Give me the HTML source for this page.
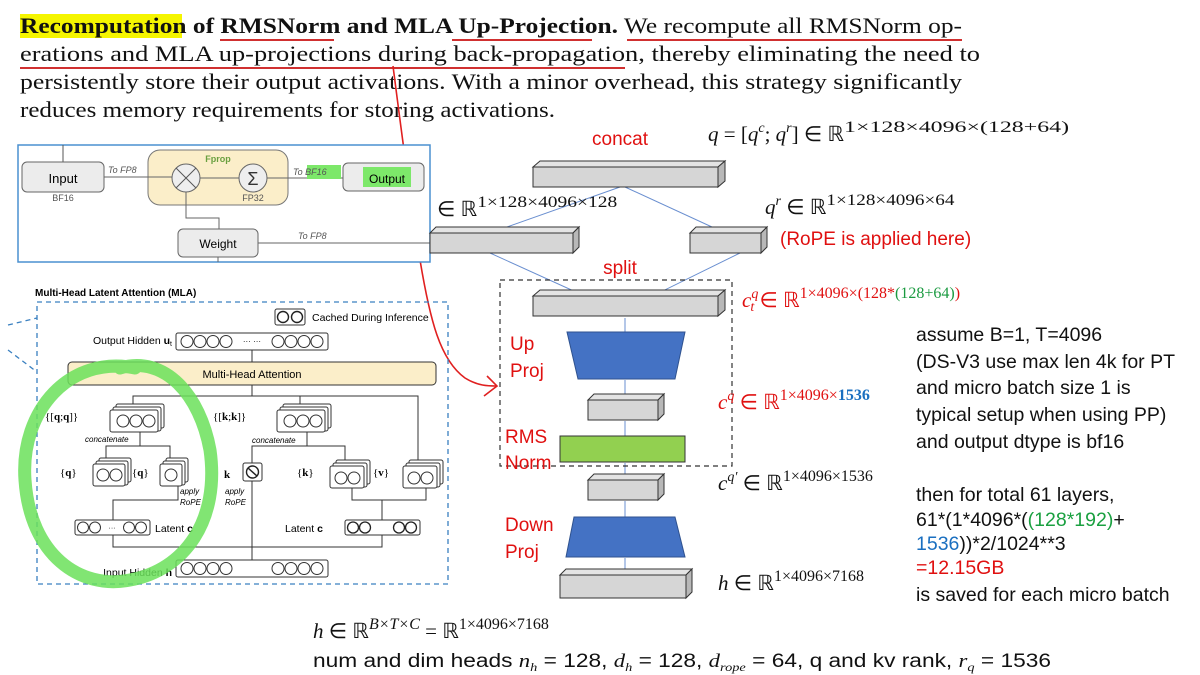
<!DOCTYPE html>
<html><head><meta charset="utf-8"><style>
html,body{margin:0;padding:0;background:#fff;}
svg{display:block}
.s{font-family:"Liberation Serif",serif}
.a{font-family:"Liberation Sans",sans-serif}
.m{font-family:"Liberation Serif",serif;font-style:italic}
</style></head><body>
<svg width="1200" height="675" viewBox="0 0 1200 675" xmlns="http://www.w3.org/2000/svg">
<rect width="1200" height="675" fill="#fff"/>
<rect x="20" y="14" width="162" height="24" fill="#f5f500"/>
<g class="s" font-size="22" fill="#111">
<text x="20" y="33" textLength="942" lengthAdjust="spacingAndGlyphs"><tspan font-weight="bold">Recomputation of RMSNorm and MLA Up-Projection.</tspan>   We recompute all RMSNorm op-</text>
<text x="20" y="61" textLength="960" lengthAdjust="spacingAndGlyphs">erations and MLA up-projections during back-propagation, thereby eliminating the need to</text>
<text x="20" y="89" textLength="942" lengthAdjust="spacingAndGlyphs">persistently store their output activations. With a minor overhead, this strategy significantly</text>
<text x="20" y="117" textLength="535" lengthAdjust="spacingAndGlyphs">reduces memory requirements for storing activations.</text>
</g>
<g stroke="#d03030" stroke-width="2" fill="none">
<path d="M220 40 H334"/><path d="M452 40 H592"/><path d="M627 40 H962"/><path d="M20 68 H625"/>
</g>
<path d="M393 66 C400 120 410 200 420 260 C430 320 440 360 465 378 C478 386 488 386 497 386" stroke="#e02020" stroke-width="1.6" fill="none"/>
<path d="M487 376 L497 386 L484 396" stroke="#e02020" stroke-width="1.6" fill="none"/>

<rect x="18" y="145" width="412" height="117" fill="#fff" stroke="#4a90d0" stroke-width="1.5"/>
<g class="a">
<line x1="63" y1="145" x2="63" y2="162" stroke="#555"/>
<rect x="22" y="162" width="82" height="30" rx="5" fill="#ececec" stroke="#666"/>
<text x="63" y="183" font-size="13" text-anchor="middle">Input</text>
<text x="63" y="201" font-size="9" fill="#555" text-anchor="middle">BF16</text>
<rect x="148" y="150" width="140" height="55" rx="12" fill="#fbeec9" stroke="#777"/>
<text x="218" y="162" font-size="9" fill="#6aa040" font-weight="bold" text-anchor="middle">Fprop</text>
<line x1="104" y1="177" x2="172" y2="177" stroke="#666"/>
<text x="108" y="173" font-size="9" fill="#555" font-style="italic">To FP8</text>
<circle cx="186" cy="178" r="14" fill="#eee" stroke="#666"/>
<path d="M176 168 L196 188 M196 168 L176 188" stroke="#555"/>
<line x1="200" y1="178" x2="239" y2="178" stroke="#666"/>
<circle cx="253" cy="178" r="14" fill="#eee" stroke="#666"/>
<text x="253" y="185" font-size="18" text-anchor="middle" fill="#333">Σ</text>
<text x="253" y="201" font-size="9" fill="#555" text-anchor="middle">FP32</text>
<line x1="267" y1="178" x2="343" y2="178" stroke="#666"/>
<rect x="307" y="165" width="34" height="14" fill="#7de86a"/>
<text x="293" y="175" font-size="9" fill="#555" font-style="italic">To BF16</text>
<rect x="343" y="163" width="81" height="28" rx="5" fill="#ececec" stroke="#666"/>
<rect x="363" y="167" width="48" height="20" fill="#7de86a"/>
<text x="387" y="183" font-size="12" text-anchor="middle">Output</text>
<path d="M186 192 V218 H219 V229" stroke="#666" fill="none"/>
<rect x="178" y="229" width="80" height="28" rx="5" fill="#ececec" stroke="#666"/>
<text x="218" y="248" font-size="12" text-anchor="middle">Weight</text>
<line x1="218" y1="257" x2="218" y2="262" stroke="#666"/>
<line x1="258" y1="243" x2="430" y2="243" stroke="#666"/>
<text x="298" y="239" font-size="9" fill="#555" font-style="italic">To FP8</text>
</g>

<g class="a">
<text x="35" y="296" font-size="10" font-weight="bold">Multi-Head Latent Attention (MLA)</text>
<rect x="37" y="302" width="411" height="282" fill="none" stroke="#3a80c0" stroke-width="1.3" stroke-dasharray="5,4"/>
<path d="M8 325 L37 318 M8 350 L37 372" stroke="#3a80c0" stroke-width="1.3" stroke-dasharray="5,4"/>
<rect x="275" y="309" width="30" height="16" rx="2" fill="#fff" stroke="#333"/>
<circle cx="283" cy="317" r="5.5" fill="#fff" stroke="#222" stroke-width="1.4"/><circle cx="297" cy="317" r="5.5" fill="#fff" stroke="#222" stroke-width="1.4"/>
<text x="312" y="321" font-size="10.5">Cached During Inference</text>
<text x="172" y="344" font-size="10.5" text-anchor="end">Output Hidden <tspan font-weight="bold">u</tspan><tspan font-size="7" dy="2">t</tspan></text>
<rect x="176" y="333" width="152" height="17" rx="2" fill="#fff" stroke="#333"/>
<g fill="#fff" stroke="#333"><circle cx="187" cy="341.5" r="6"/><circle cx="200" cy="341.5" r="6"/><circle cx="213" cy="341.5" r="6"/><circle cx="226" cy="341.5" r="6"/><circle cx="278" cy="341.5" r="6"/><circle cx="291" cy="341.5" r="6"/><circle cx="304" cy="341.5" r="6"/><circle cx="317" cy="341.5" r="6"/></g>
<text x="252" y="344" font-size="8" text-anchor="middle">··· ···</text>
<line x1="252" y1="350" x2="252" y2="362" stroke="#333"/>
<rect x="68" y="362" width="368" height="23" rx="4" fill="#fbeec9" stroke="#333"/>
<text x="252" y="378" font-size="11" text-anchor="middle">Multi-Head Attention</text>
<path d="M133 407 V396 H418 V470 M252 385 V396 M300 396 V407" stroke="#333" fill="none"/>
<text x="45" y="420" font-size="11" class="s">{[<tspan font-weight="bold">q</tspan>;<tspan font-weight="bold">q</tspan>]}</text>
<g fill="#fff" stroke="#333"><rect x="116" y="404" width="48" height="24" rx="2"/><rect x="113" y="407" width="48" height="24" rx="2"/><rect x="110" y="410" width="48" height="22" rx="2"/></g>
<g fill="#fff" stroke="#333"><circle cx="123" cy="421" r="6"/><circle cx="136" cy="421" r="6"/><circle cx="149" cy="421" r="6"/></g>
<text x="213" y="420" font-size="11" class="s">{[<tspan font-weight="bold">k</tspan>;<tspan font-weight="bold">k</tspan>]}</text>
<g fill="#fff" stroke="#333"><rect x="283" y="404" width="48" height="24" rx="2"/><rect x="280" y="407" width="48" height="24" rx="2"/><rect x="277" y="410" width="48" height="22" rx="2"/></g>
<g fill="#fff" stroke="#333"><circle cx="290" cy="421" r="6"/><circle cx="303" cy="421" r="6"/><circle cx="316" cy="421" r="6"/></g>
<text x="85" y="442" font-size="8" font-style="italic">concatenate</text>
<text x="252" y="443" font-size="8" font-style="italic">concatenate</text>
<path d="M106 463 V446 H170 V463 M140 446 V432 M252 463 V446 H345 V465 M307 446 V432" stroke="#333" fill="none"/>
<text x="60" y="476" font-size="11" class="s">{<tspan font-weight="bold">q</tspan>}</text>
<g fill="#fff" stroke="#333"><rect x="99" y="458" width="32" height="24" rx="2"/><rect x="96" y="461" width="32" height="24" rx="2"/><rect x="93" y="464" width="32" height="22" rx="2"/></g>
<g fill="#fff" stroke="#333"><circle cx="103" cy="475" r="6"/><circle cx="116" cy="475" r="6"/></g>
<text x="132" y="476" font-size="11" class="s">{<tspan font-weight="bold">q</tspan>}</text>
<g fill="#fff" stroke="#333"><rect x="166" y="458" width="22" height="24" rx="2"/><rect x="163" y="461" width="22" height="24" rx="2"/><rect x="160" y="464" width="22" height="22" rx="2"/></g>
<circle cx="171" cy="475" r="6" fill="#fff" stroke="#333"/>
<text x="180" y="494" font-size="8" font-style="italic">apply</text><text x="180" y="505" font-size="8" font-style="italic">RoPE</text>
<text x="224" y="478" font-size="11" class="s" font-weight="bold">k</text>
<rect x="243" y="463" width="19" height="18" rx="2" fill="#fff" stroke="#333"/>
<circle cx="252.5" cy="472" r="6" fill="#fff" stroke="#222" stroke-width="1.4"/><line x1="248" y1="468" x2="257" y2="476" stroke="#222" stroke-width="1.5"/>
<text x="225" y="494" font-size="8" font-style="italic">apply</text><text x="225" y="505" font-size="8" font-style="italic">RoPE</text>
<text x="297" y="476" font-size="11" class="s">{<tspan font-weight="bold">k</tspan>}</text>
<g fill="#fff" stroke="#333"><rect x="336" y="460" width="34" height="24" rx="2"/><rect x="333" y="463" width="34" height="24" rx="2"/><rect x="330" y="466" width="34" height="22" rx="2"/></g>
<g fill="#fff" stroke="#333"><circle cx="341" cy="478" r="6"/><circle cx="354" cy="478" r="6"/></g>
<text x="373" y="476" font-size="11" class="s">{<tspan font-weight="bold">v</tspan>}</text>
<g fill="#fff" stroke="#333"><rect x="409" y="460" width="34" height="24" rx="2"/><rect x="406" y="463" width="34" height="24" rx="2"/><rect x="403" y="466" width="34" height="22" rx="2"/></g>
<g fill="#fff" stroke="#333"><circle cx="414" cy="478" r="6"/><circle cx="427" cy="478" r="6"/></g>
<path d="M113 520 V500 H178 V486 M252 481 V560 M352 488 V500 H426 V488 M382 500 V520 M113 535 V547 H382 V535" stroke="#333" fill="none"/>
<rect x="75" y="520" width="75" height="15" rx="2" fill="#fff" stroke="#333"/>
<g fill="#fff" stroke="#333"><circle cx="83" cy="527.5" r="5.5"/><circle cx="95" cy="527.5" r="5.5"/><circle cx="129" cy="527.5" r="5.5"/><circle cx="141" cy="527.5" r="5.5"/></g>
<text x="112" y="530" font-size="7" text-anchor="middle">···</text>
<text x="155" y="532" font-size="10.5">Latent <tspan font-weight="bold">c</tspan></text>
<text x="285" y="532" font-size="10.5">Latent <tspan font-weight="bold">c</tspan></text>
<rect x="345" y="520" width="75" height="15" rx="2" fill="#fff" stroke="#333"/>
<g fill="#fff" stroke="#222" stroke-width="1.3"><circle cx="353" cy="527.5" r="5.5"/><circle cx="365" cy="527.5" r="5.5"/><circle cx="399" cy="527.5" r="5.5"/><circle cx="411" cy="527.5" r="5.5"/></g>
<text x="172" y="576" font-size="10.5" text-anchor="end">Input Hidden <tspan font-weight="bold">h</tspan></text>
<rect x="176" y="560" width="152" height="17" rx="2" fill="#fff" stroke="#333"/>
<g fill="#fff" stroke="#333"><circle cx="187" cy="568.5" r="6"/><circle cx="200" cy="568.5" r="6"/><circle cx="213" cy="568.5" r="6"/><circle cx="226" cy="568.5" r="6"/><circle cx="278" cy="568.5" r="6"/><circle cx="291" cy="568.5" r="6"/><circle cx="304" cy="568.5" r="6"/><circle cx="317" cy="568.5" r="6"/></g>
</g>
<path d="M135 368 C70 355 20 410 25 480 C30 555 80 590 130 580 C185 570 220 520 210 450 C200 395 165 355 120 368" fill="none" stroke="#6be05a" stroke-opacity="0.85" stroke-width="13" stroke-linecap="round"/>

<g stroke="#6a8fd0" stroke-width="1" fill="none">
<path d="M490 233 L620 187 M725 233 L625 187 M490 253 L620 312 M740 253 L620 312"/>
<path d="M625 332 V318 M625 400 V380 M625 436 V421 M625 480 V463 M625 517 V501 M625 575 V558"/>
</g>
<rect x="500" y="280" width="232" height="186" fill="none" stroke="#333" stroke-width="1.2" stroke-dasharray="5,4"/>
<g stroke="#333" stroke-width="1" fill="#d6d6d6">
<path d="M533 167 L540 161 L725 161 L718 167 Z" fill="#e4e4e4"/><path d="M718 167 L725 161 L725 181 L718 187 Z" fill="#b8b8b8"/><rect x="533" y="167" width="185" height="20"/>
<path d="M430 233 L436 227 L579 227 L573 233 Z" fill="#e4e4e4"/><path d="M573 233 L579 227 L579 247 L573 253 Z" fill="#b8b8b8"/><rect x="430" y="233" width="143" height="20"/>
<path d="M690 233 L696 227 L767 227 L761 233 Z" fill="#e4e4e4"/><path d="M761 233 L767 227 L767 247 L761 253 Z" fill="#b8b8b8"/><rect x="690" y="233" width="71" height="20"/>
<path d="M533 296 L540 290 L725 290 L718 296 Z" fill="#e4e4e4"/><path d="M718 296 L725 290 L725 310 L718 316 Z" fill="#b8b8b8"/><rect x="533" y="296" width="185" height="20"/>
<path d="M588 400 L594 394 L664 394 L658 400 Z" fill="#e4e4e4"/><path d="M658 400 L664 394 L664 414 L658 420 Z" fill="#b8b8b8"/><rect x="588" y="400" width="70" height="20"/>
<path d="M588 480 L594 474 L664 474 L658 480 Z" fill="#e4e4e4"/><path d="M658 480 L664 474 L664 494 L658 500 Z" fill="#b8b8b8"/><rect x="588" y="480" width="70" height="20"/>
<path d="M560 575 L566 569 L692 569 L686 575 Z" fill="#e4e4e4"/><path d="M686 575 L692 569 L692 592 L686 598 Z" fill="#b8b8b8"/><rect x="560" y="575" width="126" height="23"/>
</g>
<path d="M567 332 H685 L675 379 H578 Z" fill="#4472c4" stroke="#2f528f"/>
<rect x="560" y="436" width="125" height="26" fill="#92d050" stroke="#333"/>
<path d="M574 517 H675 L685 557 H566 Z" fill="#4472c4" stroke="#2f528f"/>
<g class="a" fill="#e01010" font-size="19">
<text x="620" y="145" text-anchor="middle">concat</text>
<text x="620" y="274" text-anchor="middle">split</text>
<text x="510" y="350">Up</text><text x="510" y="377">Proj</text>
<text x="505" y="443">RMS</text><text x="505" y="469">Norm</text>
<text x="505" y="531">Down</text><text x="505" y="558">Proj</text>
<text x="780" y="245">(RoPE is applied here)</text>
</g>
<g class="s" font-size="21" fill="#111">
<text x="708" y="141"><tspan font-style="italic">q</tspan> = [<tspan font-style="italic">q</tspan><tspan font-size="14" dy="-9" font-style="italic">c</tspan><tspan dy="9">; </tspan><tspan font-style="italic">q</tspan><tspan font-size="14" dy="-9" font-style="italic">r</tspan><tspan dy="9">] ∈ ℝ</tspan><tspan font-size="16" dy="-9" textLength="225" lengthAdjust="spacingAndGlyphs">1×128×4096×(128+64)</tspan></text>
<text x="437" y="216">∈ ℝ<tspan font-size="16" dy="-9" textLength="140" lengthAdjust="spacingAndGlyphs">1×128×4096×128</tspan></text>
<text x="765" y="214"><tspan font-style="italic">q</tspan><tspan font-size="14" dy="-9" font-style="italic">r</tspan><tspan dy="9"> ∈ ℝ</tspan><tspan font-size="16" dy="-9" textLength="128" lengthAdjust="spacingAndGlyphs">1×128×4096×64</tspan></text>
<text x="742" y="307" fill="#e01010"><tspan font-style="italic">c</tspan><tspan font-size="14" dy="-9" font-style="italic">q</tspan><tspan font-size="14" dy="13" dx="-8" font-style="italic">t</tspan><tspan dy="-4"> ∈ ℝ</tspan><tspan font-size="16" dy="-9">1×4096×(128*</tspan><tspan font-size="16" fill="#1a9a40">(128+64)</tspan><tspan font-size="16">)</tspan></text>
<text x="718" y="409" fill="#e01010"><tspan font-style="italic">c</tspan><tspan font-size="14" dy="-9" font-style="italic">q</tspan><tspan dy="9"> ∈ ℝ</tspan><tspan font-size="16" dy="-9">1×4096×</tspan><tspan font-size="16" fill="#1a6fc0" font-weight="bold">1536</tspan></text>
<text x="718" y="490"><tspan font-style="italic">c</tspan><tspan font-size="14" dy="-9" font-style="italic">q′</tspan><tspan dy="9"> ∈ ℝ</tspan><tspan font-size="16" dy="-9">1×4096×1536</tspan></text>
<text x="718" y="590"><tspan font-style="italic">h</tspan> ∈ ℝ<tspan font-size="16" dy="-9">1×4096×7168</tspan></text>
<text x="313" y="638"><tspan font-style="italic">h</tspan> ∈ ℝ<tspan font-size="16" dy="-9" font-style="italic">B×T×C</tspan><tspan dy="9"> = ℝ</tspan><tspan font-size="16" dy="-9">1×4096×7168</tspan></text>
</g>
<text x="313" y="667" class="a" font-size="19" fill="#111" textLength="738" lengthAdjust="spacingAndGlyphs">num and dim heads <tspan class="m">n</tspan><tspan font-size="12" dy="4" class="m">h</tspan><tspan dy="-4"> = 128, </tspan><tspan class="m">d</tspan><tspan font-size="12" dy="4" class="m">h</tspan><tspan dy="-4"> =  128, </tspan><tspan class="m">d</tspan><tspan font-size="12" dy="4" class="m">rope</tspan><tspan dy="-4"> = 64, q and kv rank, </tspan><tspan class="m">r</tspan><tspan font-size="12" dy="4" class="m">q</tspan><tspan dy="-4"> = 1536</tspan></text>
<g class="a" font-size="19.5" fill="#111">
<text x="916" y="341">assume B=1, T=4096</text>
<text x="916" y="368">(DS-V3 use max len 4k for PT</text>
<text x="916" y="394">and micro batch size 1 is</text>
<text x="916" y="421">typical setup when using PP)</text>
<text x="916" y="448">and output dtype is bf16</text>
<text x="916" y="501">then for total 61 layers,</text>
<text x="916" y="526">61*(1*4096*(<tspan fill="#1aa040">(128*192)</tspan>+</text>
<text x="916" y="550"><tspan fill="#1a6fc0">1536</tspan>))*2/1024**3</text>
<text x="916" y="574" fill="#e01010">=12.15GB</text>
<text x="916" y="601">is saved for each micro batch</text>
</g>
</svg>
</body></html>
